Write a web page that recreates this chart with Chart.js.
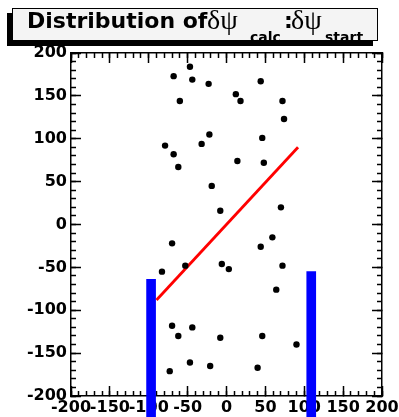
<!DOCTYPE html>
<html>
<head>
<meta charset="utf-8">
<script src="https://cdn.jsdelivr.net/npm/chart.js@4"></script>
<style>
  body { margin: 0; background: #fff; }
  #wrap { position: relative; width: 399px; height: 417px; }
  #titleBox {
    position: absolute; left: 12px; top: 8px; width: 364px; height: 31px;
    background: #f4f4f4; border: 1px solid #000; box-shadow: -5px 5px 0 #000;
  }
  .t { position: absolute; line-height: 1; white-space: nowrap; color: #000; }
  .sans { font-family: "DejaVu Sans", sans-serif; font-weight: bold; }
  .greek { font-family: "Liberation Serif", "DejaVu Serif", serif; font-weight: normal; }
</style>
</head>
<body>
<div id="wrap">
  <canvas id="chart"></canvas>
  <div id="titleBox"></div>
  <span class="t sans" style="left:27px; top:10px; font-size:22px">Distribution of</span>
  <span class="t greek" style="left:207px; top:6px; font-size:28px">δψ</span>
  <span class="t sans" style="left:250px; top:30px; font-size:14px">calc</span>
  <span class="t sans" style="left:284px; top:10px; font-size:22px">:</span>
  <span class="t greek" style="left:291px; top:6px; font-size:28px">δψ</span>
  <span class="t sans" style="left:325px; top:30px; font-size:14px">start</span>
</div>
<script>
// Puntos (x, y)
const pointX = [-47, -68, -44, -23, 44, -60, 12, 18, 72, 74, -22, 46, -79, -32, -68, -62, 14, 48, -19, -8, 70,
                -70, 59, 44, -83, -53, -6, 3, 72, 64, -70, -44, -62, -8, 46, 90, -47, -21, -73, 40];
const pointY = [184, 173, 169, 164, 167, 144, 152, 144, 144, 123, 105, 101, 92, 94, 82, 67, 74, 72, 45, 16, 20,
                -22, -15, -26, -55, -48, -46, -52, -48, -76, -118, -120, -130, -132, -130, -140, -161, -165, -171, -167];

// Recta de ajuste
const fitX = [-90, 92];
const fitY = [-88, 90];

// Barras azules (limites)
const barX = [-97, 109];
const barTop = [-64, -55];
const barBottom = -260;

const AXIS_MIN = -200;
const AXIS_MAX = 200;
const MAJOR = 50;
const MINOR = 10;

// Un eje por tipo de marca: largas (cada 50) y cortas (cada 10), hacia dentro, como en ROOT
function tickAxis(axis, position, step, len, size, weight, showFrame, showLabels, padding) {
  return {
    type: 'linear',
    axis,
    position,
    weight,
    min: AXIS_MIN,
    max: AXIS_MAX,
    offset: false,
    grid: {
      display: true,
      drawOnChartArea: false,
      drawTicks: true,
      tickLength: -len,
      tickColor: '#000',
      tickWidth: 1.5,
      offset: false
    },
    border: { display: showFrame, color: '#000', width: 1.5 },
    afterFit(scale) {
      if (axis === 'x') scale.height = size; else scale.width = size;
      scale.paddingLeft = 0;
      scale.paddingRight = 0;
      scale.paddingTop = 0;
      scale.paddingBottom = 0;
    },
    ticks: {
      display: showLabels,
      stepSize: step,
      autoSkip: false,
      maxRotation: 0,
      minRotation: 0,
      padding,
      font: { size: 16, weight: 'bold' }
    }
  };
}

Chart.defaults.font.family = '"DejaVu Sans", sans-serif';
Chart.defaults.color = '#000';

new Chart(document.getElementById('chart'), {
  type: 'scatter',
  data: {
    datasets: [{
      label: 'datos',
      data: pointX.map((x, i) => ({ x, y: pointY[i] })),
      xAxisID: 'x',
      yAxisID: 'y',
      backgroundColor: '#000',
      borderWidth: 0,
      pointRadius: 3.2
    }, {
      label: 'ajuste',
      type: 'line',
      data: fitX.map((x, i) => ({ x, y: fitY[i] })),
      xAxisID: 'x',
      yAxisID: 'y',
      borderColor: '#ff0000',
      borderWidth: 2.8,
      pointRadius: 0,
      fill: false
    }, {
      label: 'limites',
      type: 'bar',
      data: barX.map((x, i) => ({ x, y: [barBottom, barTop[i]] })),
      xAxisID: 'x',
      yAxisID: 'y',
      backgroundColor: '#0000ff',
      barThickness: 9,
      clip: false
    }]
  },
  options: {
    responsive: true,
    maintainAspectRatio: false,
    animation: false,
    layout: { padding: { top: 53, right: 17, left: 0, bottom: 0 } },
    plugins: { legend: { display: false }, tooltip: { enabled: false } },
    scales: {
      x: tickAxis('x', 'bottom', MAJOR, 10, 21, 0, true, true, 12),
      xMinor: tickAxis('x', 'bottom', MINOR, 5, 0, -1, false, false, 0),
      xTop: tickAxis('x', 'top', MAJOR, 10, 0, 0, true, false, 0),
      xTopMinor: tickAxis('x', 'top', MINOR, 5, 0, -1, false, false, 0),
      y: tickAxis('y', 'left', MAJOR, 10, 71, 0, true, true, 14),
      yMinor: tickAxis('y', 'left', MINOR, 5, 0, -1, false, false, 0),
      yRight: tickAxis('y', 'right', MAJOR, 10, 0, 0, true, false, 0),
      yRightMinor: tickAxis('y', 'right', MINOR, 5, 0, -1, false, false, 0)
    }
  }
});
</script>
</body>
</html>
